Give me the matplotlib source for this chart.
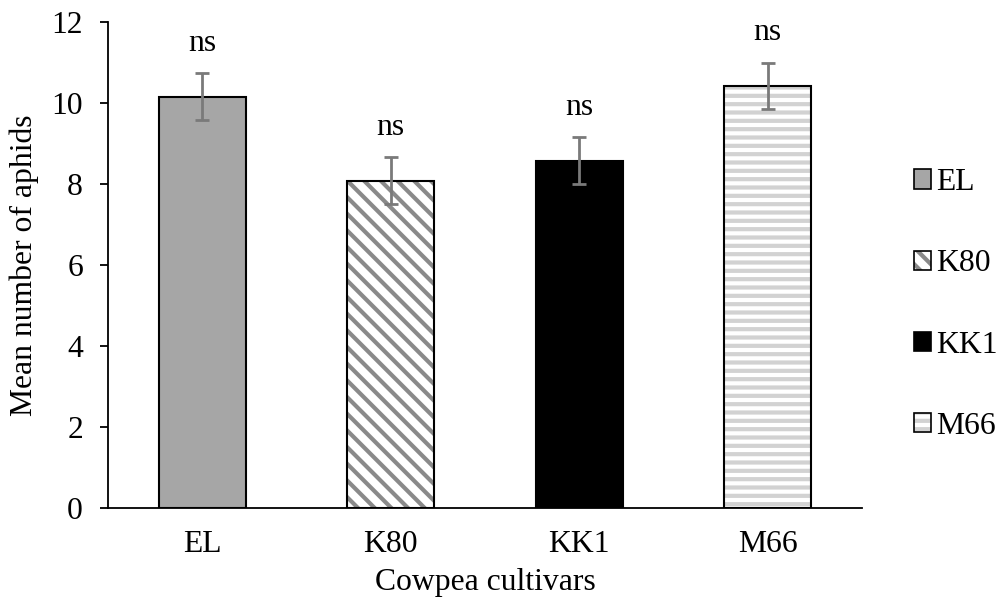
#!/usr/bin/env python3
"""
Mean aphid counts per cowpea cultivar, bar chart with standard error bars.
"""

import matplotlib
matplotlib.use("Agg")
import matplotlib.pyplot as plt
from matplotlib.patches import Patch

cultivars = ["EL", "K80", "KK1", "M66"]
mean_aphids = [10.15, 8.08, 8.58, 10.42]
std_err = [0.58, 0.58, 0.58, 0.58]
sig_labels = ["ns", "ns", "ns", "ns"]

# fill, hatch, hatch colour for each cultivar
face_colors = ["#a6a6a6", "white", "black", "white"]
hatches = [None, "\\\\", None, "--"]
hatch_colors = [None, "#8a8a8a", None, "#d2d2d2"]

plt.rcParams["font.family"] = ["Liberation Serif", "DejaVu Serif"]
plt.rcParams["font.size"] = 22.8
plt.rcParams["hatch.linewidth"] = 3.0

fig = plt.figure(figsize=(10.01, 6.08), dpi=100)
ax = fig.add_axes([0.1079, 0.1645, 0.7532, 0.7993])

x = list(range(len(cultivars)))
bar_width = 0.46

# hatched fill first, then the black outline on top
for i in x:
    ax.bar(i, mean_aphids[i], width=bar_width, color=face_colors[i],
           hatch=hatches[i], edgecolor=hatch_colors[i] or face_colors[i],
           linewidth=0, zorder=2)
ax.bar(x, mean_aphids, width=bar_width, fill=False, edgecolor="black",
       linewidth=1.5, zorder=3)

ax.errorbar(x, mean_aphids, yerr=std_err, fmt="none", ecolor="#7a7a7a",
            elinewidth=2, capsize=5, capthick=2, zorder=4)

for i in x:
    ax.annotate(sig_labels[i], (i, mean_aphids[i] + std_err[i]),
                xytext=(0, 11), textcoords="offset points",
                ha="center", va="bottom")

ax.set_xlim(-0.5, len(cultivars) - 0.5)
ax.set_ylim(0, 12)
ax.set_yticks(range(0, 13, 2))
ax.set_xticks(x)
ax.set_xticklabels(cultivars)

ax.tick_params(axis="x", length=0, pad=16)
ax.tick_params(axis="y", direction="out", length=6, width=1.3, pad=12)

for side in ["top", "right"]:
    ax.spines[side].set_visible(False)
ax.spines["left"].set_linewidth(1.3)
ax.spines["bottom"].set_linewidth(1.3)

ax.set_ylabel("Mean number of aphids", labelpad=9)
ax.set_xlabel("Cowpea cultivars", labelpad=6)

# legend keys: hatched square with a black outline laid over it
handles = []
for i in x:
    fill = Patch(facecolor=face_colors[i], edgecolor=hatch_colors[i] or face_colors[i],
                 hatch=hatches[i], linewidth=0)
    outline = Patch(facecolor="none", edgecolor="black", linewidth=1.2)
    handles.append((fill, outline))
leg = fig.legend(handles=handles, labels=cultivars, loc="center left",
                 bbox_to_anchor=(0.9, 0.499), frameon=False,
                 handlelength=0.55, handleheight=0.55, handletextpad=0.15,
                 labelspacing=1.65, borderaxespad=0)

fig.savefig("out.png", dpi=100)
